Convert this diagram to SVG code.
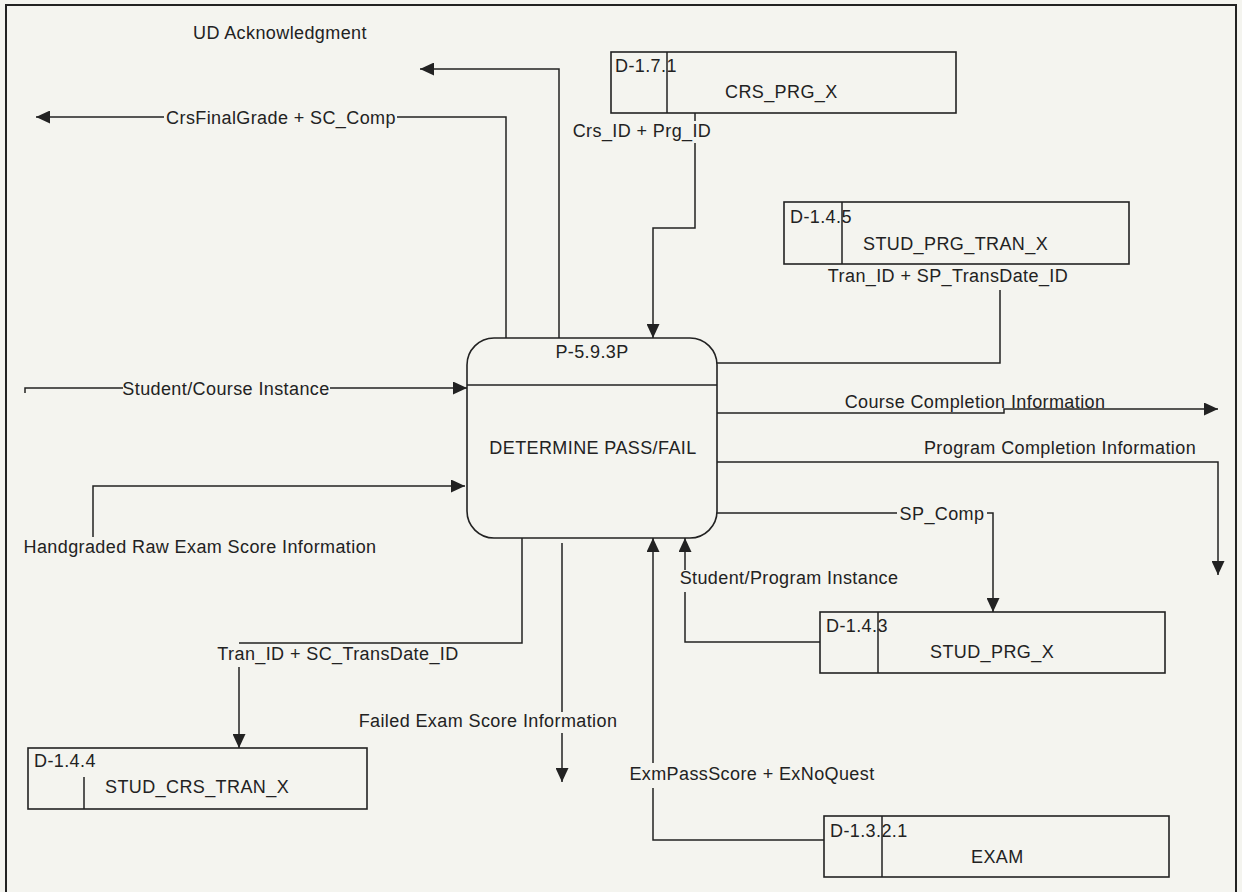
<svg xmlns="http://www.w3.org/2000/svg" width="1242" height="892" viewBox="0 0 1242 892">
<style>
text{font-family:"Liberation Sans",Arial,Helvetica,sans-serif;font-size:18px;fill:#222;letter-spacing:0.4px}
.mid{text-anchor:middle}
.ln{fill:none;stroke:#222;stroke-width:1.5}
.box{fill:none;stroke:#222;stroke-width:1.6}
.arr{marker-end:url(#ah)}
</style>
<defs>
<marker id="ah" viewBox="0 0 14 13" refX="14" refY="6.5" markerWidth="14" markerHeight="13" markerUnits="userSpaceOnUse" orient="auto">
<path d="M0,0 L14,6.5 L0,13 z" fill="#222"/>
</marker>
</defs>
<rect x="0" y="0" width="1242" height="892" fill="#f4f4ef"/>
<rect id="frame" x="6" y="5" width="1230" height="900" fill="none" stroke="#222" stroke-width="2"/>

<g id="P-5.9.3P">
<rect class="box" x="467" y="338" width="250" height="200" rx="27" ry="27"/>
<line class="ln" x1="467" y1="385" x2="717" y2="385"/>
<text class="mid" x="592" y="358">P-5.9.3P</text>
<text class="mid" x="593" y="454">DETERMINE PASS/FAIL</text>
</g>

<g id="D-1.7.1">
<rect class="box" x="611" y="52" width="345" height="61"/>
<line class="ln" x1="667" y1="52" x2="667" y2="113"/>
<text x="615" y="72">D-1.7.1</text>
<text x="725" y="98">CRS_PRG_X</text>
</g>

<g id="D-1.4.5">
<rect class="box" x="784" y="202" width="345" height="62"/>
<line class="ln" x1="842" y1="202" x2="842" y2="264"/>
<text x="790" y="223">D-1.4.5</text>
<text x="863" y="250">STUD_PRG_TRAN_X</text>
</g>

<g id="D-1.4.3">
<rect class="box" x="820" y="612" width="345" height="61"/>
<line class="ln" x1="878" y1="612" x2="878" y2="673"/>
<text x="826" y="632">D-1.4.3</text>
<text x="930" y="658">STUD_PRG_X</text>
</g>

<g id="D-1.4.4">
<rect class="box" x="28" y="748" width="339" height="61"/>
<line class="ln" x1="84" y1="777" x2="84" y2="809"/>
<text x="34" y="767">D-1.4.4</text>
<text x="105" y="793">STUD_CRS_TRAN_X</text>
</g>

<g id="D-1.3.2.1">
<rect class="box" x="824" y="816" width="345" height="61"/>
<line class="ln" x1="882" y1="816" x2="882" y2="877"/>
<text x="830" y="837">D-1.3.2.1</text>
<text x="971" y="863">EXAM</text>
</g>

<g id="connectors">
<!-- UD Acknowledgment -->
<path class="ln arr" d="M559,338 V69 H420"/>
<text x="193" y="39">UD Acknowledgment</text>
<!-- CrsFinalGrade + SC_Comp -->
<path class="ln" d="M506,338 V117 H397"/>
<path class="ln arr" d="M164,117 H36"/>
<text class="mid" x="281" y="123.5">CrsFinalGrade + SC_Comp</text>
<!-- Crs_ID + Prg_ID -->
<path class="ln" d="M695,113 V121"/>
<path class="ln arr" d="M695,143 V228 H653 V338"/>
<text class="mid" x="642" y="137">Crs_ID + Prg_ID</text>
<!-- Tran_ID + SP_TransDate_ID -->
<path class="ln" d="M1000,290 V363 H717"/>
<text class="mid" x="948" y="282">Tran_ID + SP_TransDate_ID</text>
<!-- Student/Course Instance -->
<path class="ln" d="M25,393 V388 H123"/>
<path class="ln arr" d="M330,388 H467"/>
<text class="mid" x="226" y="394.5">Student/Course Instance</text>
<!-- Handgraded Raw Exam Score Information -->
<path class="ln arr" d="M93,537 V486 H465"/>
<text class="mid" x="200" y="553">Handgraded Raw Exam Score Information</text>
<!-- Course Completion Information -->
<path class="ln arr" d="M717,413 H1004 V409 H1218"/>
<text class="mid" x="975" y="408">Course Completion Information</text>
<!-- Program Completion Information -->
<path class="ln arr" d="M717,462 H1218 V575"/>
<text class="mid" x="1060" y="454">Program Completion Information</text>
<!-- SP_Comp -->
<path class="ln" d="M717,513 H897"/>
<path class="ln arr" d="M987,513 H993 V612"/>
<text class="mid" x="942" y="519.5">SP_Comp</text>
<!-- Student/Program Instance -->
<path class="ln arr" d="M685,570 V538"/>
<path class="ln" d="M685,592 V642 H820"/>
<text class="mid" x="789" y="584">Student/Program Instance</text>
<!-- Tran_ID + SC_TransDate_ID -->
<path class="ln" d="M522,538 V643 H239"/>
<path class="ln arr" d="M239,667 V748"/>
<text class="mid" x="338" y="660">Tran_ID + SC_TransDate_ID</text>
<!-- Failed Exam Score Information -->
<path class="ln" d="M562,543 V712"/>
<path class="ln arr" d="M562,733 V782"/>
<text class="mid" x="488" y="727">Failed Exam Score Information</text>
<!-- ExmPassScore + ExNoQuest -->
<path class="ln arr" d="M653,763 V538"/>
<path class="ln" d="M653,788 V840 H824"/>
<text class="mid" x="752" y="780">ExmPassScore + ExNoQuest</text>
</g>
</svg>
